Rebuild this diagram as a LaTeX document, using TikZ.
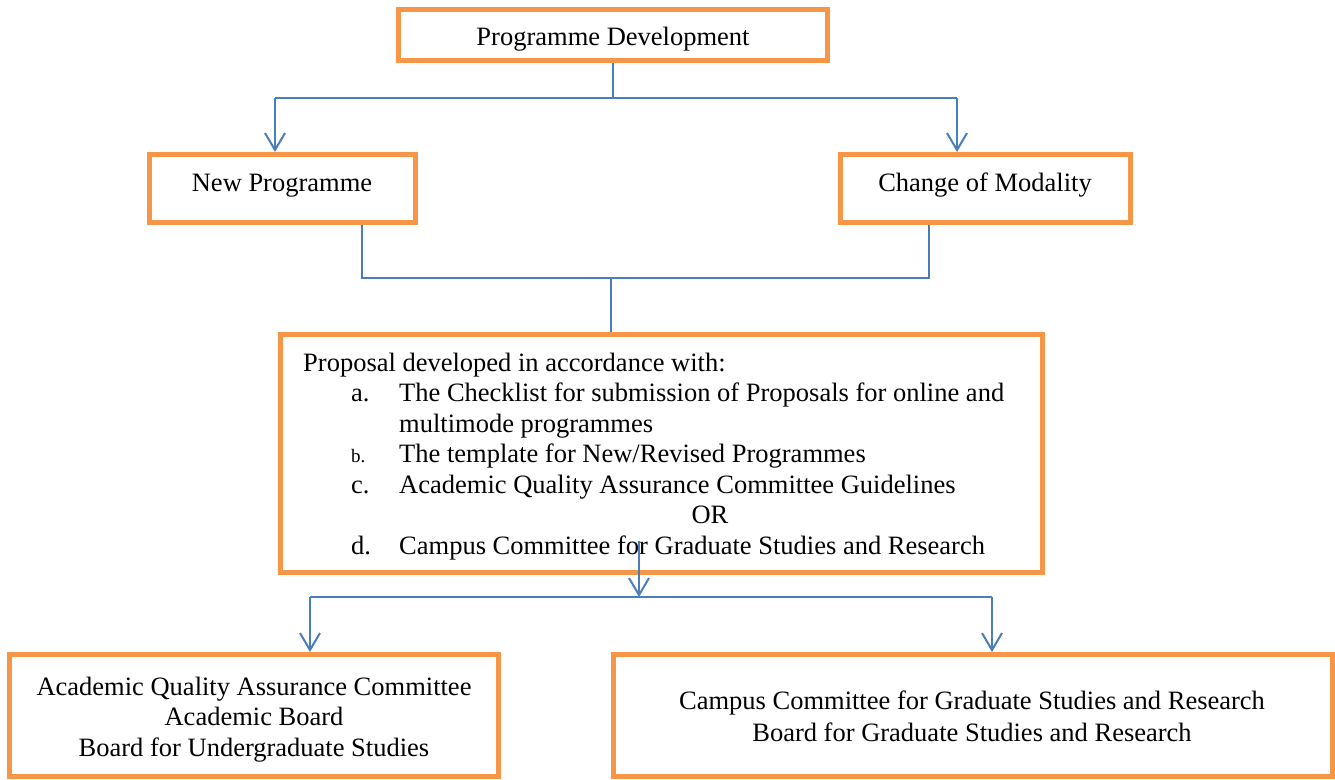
\documentclass[tikz,border=0pt]{standalone}
\usepackage{fontspec}
\setmainfont{Liberation Serif}
\usetikzlibrary{arrows.meta}
\definecolor{boxorange}{RGB}{247,150,70}
\definecolor{linkblue}{RGB}{74,126,187}
\begin{document}
\begin{tikzpicture}[x=1pt,y=-1pt,
  box/.style={draw=boxorange, line width=5pt, fill=white, rectangle, inner sep=0pt},
  txt/.style={inner sep=0pt, font=\fontsize{26.5}{30.5}\selectfont},
  smalltxt/.style={inner sep=0pt, font=\fontsize{19}{22}\selectfont},
  conn/.style={draw=linkblue, line width=2pt},
  arr/.style={conn, -{Straight Barb[length=17pt,width=20pt]}}]
\useasboundingbox (0,0) rectangle (1335,779);
\fill[white] (0,0) rectangle (1335,779);

% boxes
\node[box, minimum width=429pt, minimum height=51pt] (top) at (613,35) {};
\node[box, minimum width=266pt, minimum height=68pt] (newp) at (282.5,188.5) {};
\node[box, minimum width=290pt, minimum height=68pt] (chg) at (985.5,188.5) {};
\node[box, minimum width=762pt, minimum height=238pt] (prop) at (661.5,453.5) {};
\node[box, minimum width=489pt, minimum height=121.5pt] (bleft) at (254,715.25) {};
\node[box, minimum width=719pt, minimum height=121.5pt] (bright) at (973,715.25) {};

% texts
\node[txt, anchor=base] (ttop) at (613,45) {Programme Development};
\node[txt, anchor=base] (tnewp) at (282,191) {New Programme};
\node[txt, anchor=base] (tchg) at (985,191) {Change of Modality};

\node[txt, anchor=base west] (p0) at (303,371) {Proposal developed in accordance with:};
\node[txt, anchor=base west] (la) at (351,401.5) {a.};
\node[txt, anchor=base west] (pa) at (399,401.5) {The Checklist for submission of Proposals for online and};
\node[txt, anchor=base west] (pa2) at (399,432) {multimode programmes};
\node[smalltxt, anchor=base west] (lb) at (351,462.5) {b.};
\node[txt, anchor=base west] (pb) at (399,462.5) {The template for New/Revised Programmes};
\node[txt, anchor=base west] (lc) at (351,493) {c.};
\node[txt, anchor=base west] (pc) at (399,493) {Academic Quality Assurance Committee Guidelines};
\node[txt, anchor=base] (por) at (710,523.5) {OR};
\node[txt, anchor=base west] (ld) at (351,554) {d.};
\node[txt, anchor=base west] (pd) at (399,554) {Campus Committee for Graduate Studies and Research};

\node[txt, anchor=base] (bl1) at (254,695) {Academic Quality Assurance Committee};
\node[txt, anchor=base] (bl2) at (254,725.5) {Academic Board};
\node[txt, anchor=base] (bl3) at (254,756) {Board for Undergraduate Studies};

\node[txt, anchor=base] (br1) at (972,709) {Campus Committee for Graduate Studies and Research};
\node[txt, anchor=base] (br2) at (972,741) {Board for Graduate Studies and Research};

% connector junctions
\coordinate (jl) at (275,98);
\coordinate (jr) at (957,98);
\coordinate (ml) at (362,278);
\coordinate (mr) at (929,278);
\coordinate (mm) at (611,278);
\coordinate (ps) at (639,541);
\coordinate (pm) at (639,597);
\coordinate (bl) at (310,597);
\coordinate (br) at (992,597);

% connectors
\draw[conn] (top) -- (top |- jl);
\draw[conn] (jl) -- (jr);
\draw[arr] (jl) -- (jl |- newp.north);
\draw[arr] (jr) -- (jr |- chg.north);

\draw[conn] (ml |- newp.south) -- (ml) -- (mr) -- (mr |- chg.south);
\draw[conn] (mm) -- (mm |- prop.north);

\draw[arr] (ps) -- (pm);
\draw[conn] (bl) -- (br);
\draw[arr] (bl) -- (bl |- bleft.north);
\draw[arr] (br) -- (br |- bright.north);
\end{tikzpicture}
\end{document}
